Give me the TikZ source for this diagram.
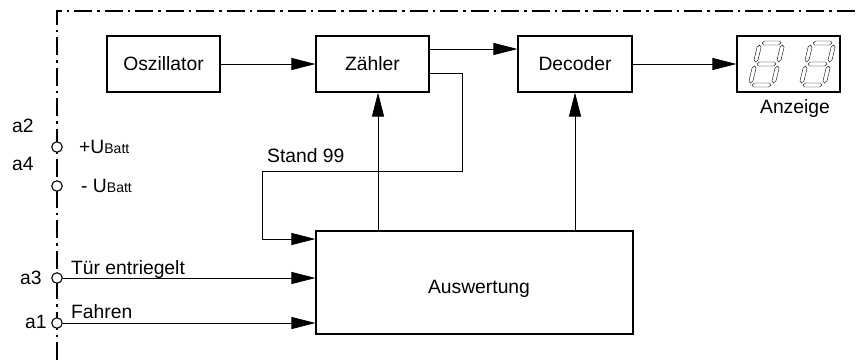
\documentclass[tikz,border=0pt]{standalone}
\usepackage{fontspec}
\setmainfont{Liberation Sans}
\usetikzlibrary{arrows.meta}
\newcommand\HSeg[3]{\draw[segline] (#1,#3) -- (#1+2,#3+2) -- (#2-2,#3+2) -- (#2,#3) -- (#2-2,#3-2) -- (#1+2,#3-2) -- cycle;}
\newcommand\VSeg[3]{\draw[segline] (#1,#2) -- (#1+2,#2+2) -- (#1+2,#3-2) -- (#1,#3) -- (#1-2,#3-2) -- (#1-2,#2+2) -- cycle;}
\tikzset{
  segline/.style={line width=0.4pt},
  digit/.pic={
    \begin{scope}[x=1pt,y=1pt,xslant=0.24]
      \HSeg{2}{21}{0}\HSeg{2}{21}{21}\HSeg{2}{21}{42}
      \VSeg{0}{2}{19}\VSeg{23}{2}{19}\VSeg{0}{23}{40}\VSeg{23}{23}{40}
    \end{scope}}
}
\begin{document}
\begin{tikzpicture}[x=1pt,y=-1pt,
  font=\fontsize{19.3}{22}\selectfont,
  blk/.style={draw, line width=1.1pt, inner sep=0pt},
  conn/.style={line width=0.8pt},
  arr/.style={conn, -{Triangle[length=24pt,width=12pt]}},
  term/.style={circle, draw, fill=white, minimum size=10.5pt, inner sep=0pt, line width=1.1pt},
  border/.style={line width=1.3pt, dash pattern=on 18pt off 5pt on 2.5pt off 5pt},
  lbl/.style={anchor=base west, inner sep=0pt}]
\useasboundingbox (0,0) rectangle (859,360);

% border
\draw[border] (57,360) -- (57,11) -- (859,11);

% blocks
\node[blk, minimum width=113pt, minimum height=56pt] (osz) at (163.5,64) {Oszillator};
\node[blk, minimum width=113pt, minimum height=56pt] (zahl) at (372.5,64) {Zähler};
\node[blk, minimum width=114pt, minimum height=56pt] (dec) at (575,64) {Decoder};
\node[blk, minimum width=103pt, minimum height=56pt] (anz) at (788.5,64) {};
\node[blk, minimum width=317pt, minimum height=103pt] (ausw) at (474.5,282.5) {};
\node[inner sep=0pt, anchor=base] (auswtxt) at (479,293) {Auswertung};
\node[inner sep=0pt, anchor=base] (anzlbl) at (795,113) {Anzeige};

% display digits
\pic at (750,85) {digit};
\pic at (801,85) {digit};

% terminals
\node[term] (t2) at (57,147) {};
\node[term] (t4) at (57,186) {};
\node[term] (t3) at (57,278) {};
\node[term] (t1) at (57,323) {};

% terminal labels
\node[lbl] (la2) at (12,132) {a2};
\node[lbl] (la4) at (12,170) {a4};
\node[lbl] (la3) at (20,284) {a3};
\node[lbl] (la1) at (25,328) {a1};
\node[lbl] (lub1) at (79,153) {+U{\fontsize{14}{16}\selectfont Batt}};
\node[lbl] (lub2) at (81,192) {- U{\fontsize{14}{16}\selectfont Batt}};
\node[lbl] (ltur) at (71,274) {Tür entriegelt};
\node[lbl] (lfah) at (71,318) {Fahren};
\node[lbl] (lst) at (267,162) {Stand 99};

% helper coordinates
\coordinate (y49) at (0,49);
\coordinate (y73) at (0,73);
\coordinate (y239) at (0,239);
\coordinate (c1) at (462,73);
\coordinate (c2) at (462,171);
\coordinate (c3) at (262,171);
\coordinate (c4) at (262,239);
\coordinate (x378) at (378,0);

% connectors
\draw[arr] (osz) -- (zahl);
\draw[arr] (zahl.east |- y49) -- (dec.west |- y49);
\draw[arr] (dec) -- (anz);
\draw[conn] (zahl.east |- y73) -- (c1) -- (c2) -- (c3) -- (c4);
\draw[arr] (c4) -- (ausw.west |- y239);
\draw[arr] (ausw.north -| x378) -- (zahl.south -| x378);
\draw[arr] (ausw.north -| dec.south) -- (dec.south);
\draw[arr] (t3) -- (t3 -| ausw.west);
\draw[arr] (t1) -- (t1 -| ausw.west);
\end{tikzpicture}
\end{document}
